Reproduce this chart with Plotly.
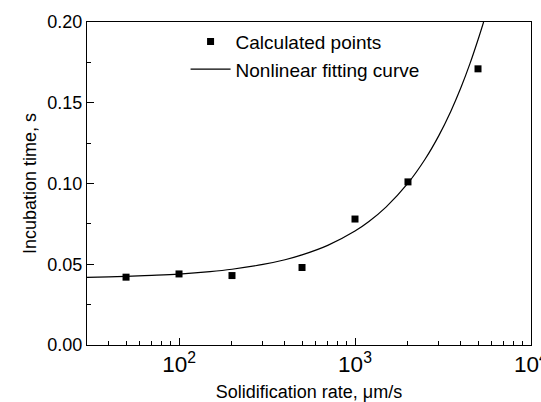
import plotly.graph_objects as go
import math

# Calculated points
rate_pts = [50, 100, 200, 500, 1000, 2000, 5000]
time_pts = [0.042, 0.044, 0.043, 0.048, 0.078, 0.101, 0.171]

# Nonlinear fitting curve
rate_fit = [30, 40, 50, 70, 100, 150, 200, 300, 400, 500, 700, 1000, 1200, 1500,
            2000, 2500, 3000, 3500, 4000, 4500, 5000, 5380]
time_fit = [0.0419, 0.0422, 0.0425, 0.0431, 0.0439, 0.0454, 0.0469, 0.0499, 0.0528,
            0.0558, 0.0617, 0.0706, 0.0765, 0.0854, 0.1002, 0.1150, 0.1298, 0.1446,
            0.1594, 0.1742, 0.1890, 0.2000]

font = "Liberation Sans, Arial, sans-serif"

fig = go.Figure()
fig.add_trace(go.Scatter(x=rate_pts, y=time_pts, mode="markers", name="Calculated points",
                         marker=dict(symbol="square", size=7, color="black")))
fig.add_trace(go.Scatter(x=rate_fit, y=time_fit, mode="lines", name="Nonlinear fitting curve",
                         line=dict(color="black", width=1.2, shape="spline")))

fig.update_layout(
    width=541, height=402,
    margin=dict(l=87, r=10, t=22, b=57),
    paper_bgcolor="white", plot_bgcolor="white",
    font=dict(family=font, size=18, color="black"),
    showlegend=True,
    legend=dict(x=0.222, y=0.998, xanchor="left", yanchor="top",
                bgcolor="rgba(0,0,0,0)", font=dict(size=19),
                tracegroupgap=0, itemwidth=40),
)
fig.update_xaxes(
    type="log", range=[math.log10(30), 4.0001],
    dtick=1, exponentformat="power",
    ticklabeloverflow="allow", automargin=False,
    showline=True, linecolor="black", linewidth=1, mirror=True,
    ticks="inside", ticklen=7, tickcolor="black",
    minor=dict(ticks="inside", ticklen=4, tickcolor="black", showgrid=False),
    showgrid=False, zeroline=False,
    title=dict(text="Solidification rate, μm/s", font=dict(size=18), standoff=13),
    tickfont=dict(size=18),
)
fig.update_yaxes(
    range=[0, 0.2], dtick=0.05, tickformat=".2f", automargin=False,
    showline=True, linecolor="black", linewidth=1, mirror=True,
    ticks="inside", ticklen=7, tickcolor="black",
    minor=dict(ticks="inside", ticklen=4, dtick=0.025, tickcolor="black", showgrid=False),
    showgrid=False, zeroline=False,
    title=dict(text="Incubation time, s", font=dict(size=18), standoff=6),
    tickfont=dict(size=18),
)

fig.write_html("out.html")
